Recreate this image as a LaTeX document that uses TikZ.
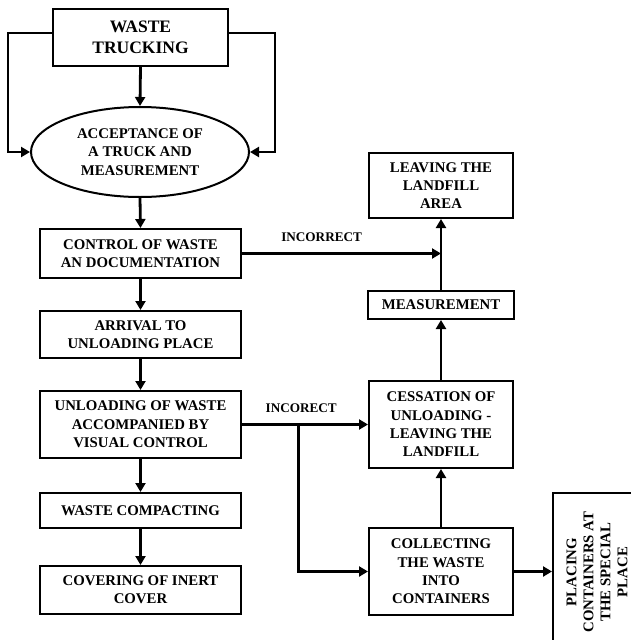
\documentclass[tikz,border=0pt]{standalone}
\usepackage{fontspec}
\setmainfont{Liberation Serif}
\usetikzlibrary{arrows.meta,calc,shapes.geometric}

\begin{document}
\begin{tikzpicture}[x=1pt, y=-1pt,
  stage/.style={draw, line width=2pt, inner sep=0pt, align=center, font=\bfseries\fontsize{14.8}{18.3}\selectfont},
  arr/.style={-{Triangle[length=9pt, width=10pt]}, line width=2.8pt},
  lbl/.style={font=\bfseries\fontsize{13.2}{15}\selectfont, inner sep=2pt},
]
\path[use as bounding box, clip] (0,0) rectangle (631,640);

% Arrival of the truck
\node[stage, minimum width=175, minimum height=57, font=\bfseries\fontsize{17.5}{21}\selectfont] (truck) at (140.5, 37.5) {WASTE\\TRUCKING};
\node[stage, ellipse, minimum width=218, minimum height=90] (accept) at (140, 152) {ACCEPTANCE OF\\A TRUCK AND\\MEASUREMENT};

% Left column
\node[stage, minimum width=201, minimum height=49] (control) at (140.5, 253.5) {CONTROL OF WASTE\\AN DOCUMENTATION};
\node[stage, minimum width=201, minimum height=47] (arrival) at (140.5, 334.5) {ARRIVAL TO\\UNLOADING PLACE};
\node[stage, minimum width=201, minimum height=67] (unload) at (140.5, 424.5) {UNLOADING OF WASTE\\ACCOMPANIED BY\\VISUAL CONTROL};
\node[stage, minimum width=201, minimum height=35] (compact) at (140.5, 510.5) {WASTE COMPACTING};
\node[stage, minimum width=201, minimum height=48] (cover) at (140.5, 590) {COVERING OF INERT\\COVER};

% Right column
\node[stage, minimum width=144, minimum height=65] (leave) at (441, 185.5) {LEAVING THE\\LANDFILL\\AREA};
\node[stage, minimum width=146, minimum height=28] (measure) at (441, 305) {MEASUREMENT};
\node[stage, minimum width=144, minimum height=87] (cease) at (441, 424.5) {CESSATION OF\\UNLOADING -\\LEAVING THE\\LANDFILL};
\node[stage, minimum width=144, minimum height=87] (collect) at (441, 571.5) {COLLECTING\\THE WASTE\\INTO\\CONTAINERS};
\node[stage, rotate=90, minimum width=158, minimum height=88, font=\bfseries\fontsize{14.8}{17}\selectfont] (place) at (597, 572) {PLACING\\CONTAINERS AT\\THE SPECIAL\\PLACE};

% Truck to acceptance
\draw[arr] ([yshift=4.5pt]truck.west) -- ++(-44,0) |- (accept.west);
\draw[arr] ([yshift=4.5pt]truck.east) -- ++(46,0) |- (accept.east);
\draw[arr] (truck.south) -- (accept.north);

% Main flow
\draw[arr] (accept.south) -- (control.north);
\draw[arr] (control.south) -- (arrival.north);
\draw[arr] (arrival.south) -- (unload.north);
\draw[arr] (unload.south) -- (compact.north);
\draw[arr] (compact.south) -- (cover.north);

% Rejected loads
\coordinate (join) at (leave.south |- control.east);
\draw[arr] (control.east) -- node[lbl, above=8pt, pos=0.4] {INCORRECT} (join);
\draw[arr] (measure.north) -- (leave.south);
\draw[arr] (cease.north) -- (measure.south);

\draw[arr] (unload.east) -- node[lbl, above=8pt, pos=0.47] {INCORECT} (cease.west);
\coordinate (split) at ($(unload.east)!0.45!(cease.west)$);
\draw[arr] (split) |- (collect.west);
\draw[arr] (collect.north) -- (cease.south);
\draw[arr] (collect.east) -- (collect.east -| place.north);

\end{tikzpicture}
\end{document}
